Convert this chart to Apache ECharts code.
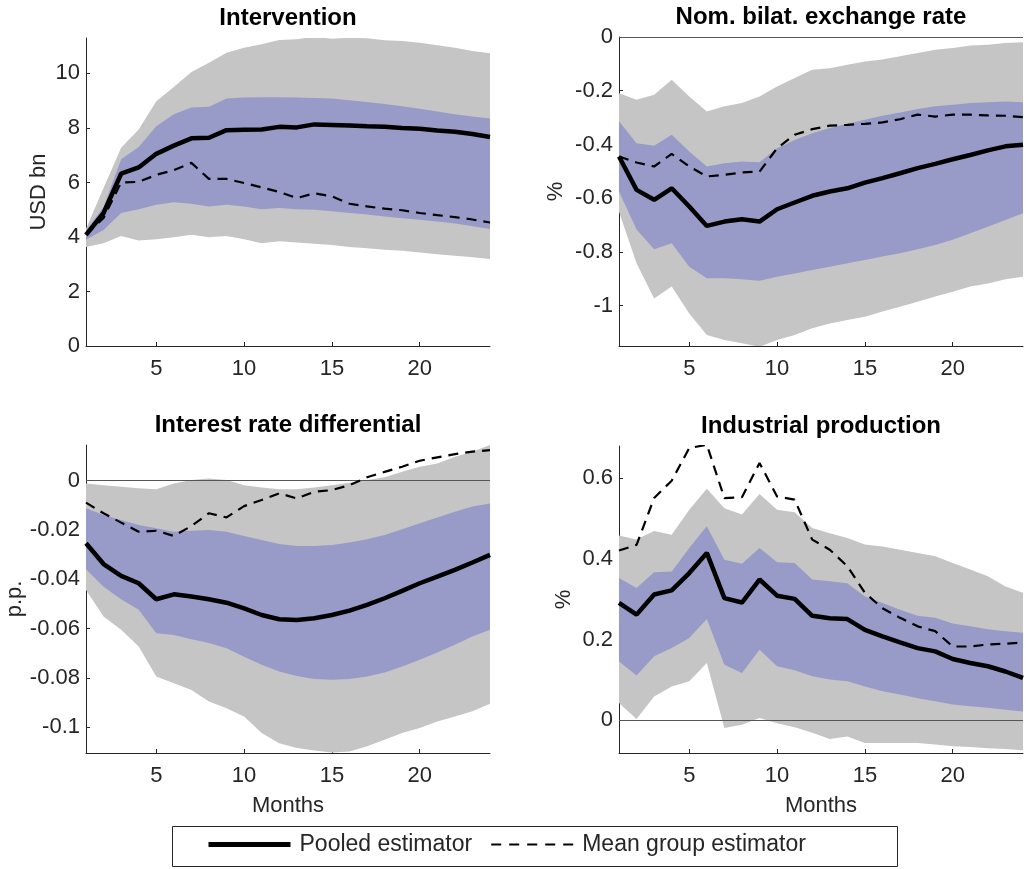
<!DOCTYPE html>
<html>
<head>
<meta charset="utf-8">
<script src="https://cdn.jsdelivr.net/npm/echarts@6/dist/echarts.min.js"></script>
<style>html,body{margin:0;padding:0;background:#fff}#c{width:1026px;height:869px}</style>
</head>
<body>
<div id="c"></div>
<script>
const months = [1,2,3,4,5,6,7,8,9,10,11,12,13,14,15,16,17,18,19,20,21,22,23,24];
const xTicks = [5,10,15,20];

// Panel 1: Intervention (USD bn)
const intPooled = [4.08,4.88,6.32,6.55,7.05,7.35,7.62,7.64,7.92,7.93,7.94,8.04,8.02,8.13,8.11,8.09,8.06,8.04,8.0,7.97,7.91,7.86,7.78,7.67];
const intMean   = [4.08,4.7,6.0,6.02,6.28,6.45,6.72,6.13,6.13,5.98,5.82,5.65,5.43,5.6,5.49,5.22,5.12,5.04,4.98,4.88,4.8,4.73,4.64,4.53];
const intBlueHi = [4.25,5.1,6.85,7.3,8.06,8.5,8.75,8.78,9.08,9.12,9.13,9.13,9.12,9.1,9.08,9.02,8.95,8.88,8.8,8.7,8.6,8.5,8.42,8.35];
const intBlueLo = [3.9,4.26,4.88,5.02,5.18,5.27,5.22,5.12,5.18,5.12,5.02,5.06,5.02,5.0,4.94,4.88,4.82,4.75,4.69,4.63,4.57,4.49,4.39,4.29];
const intGrayHi = [4.3,5.8,7.27,7.94,8.98,9.5,10.05,10.39,10.76,10.94,11.07,11.23,11.25,11.35,11.27,11.31,11.29,11.22,11.19,11.13,11.03,10.94,10.82,10.74];
const intGrayLo = [3.63,3.77,4.04,3.87,3.92,3.99,4.08,3.99,4.04,3.92,3.77,3.84,3.8,3.75,3.71,3.63,3.59,3.53,3.49,3.43,3.37,3.31,3.26,3.19];
const intTicks = [0,2,4,6,8,10];

// Panel 2: Nom. bilat. exchange rate (%)
const exPooled = [-0.445,-0.569,-0.606,-0.563,-0.631,-0.703,-0.687,-0.678,-0.687,-0.641,-0.616,-0.591,-0.575,-0.563,-0.542,-0.525,-0.507,-0.488,-0.472,-0.455,-0.439,-0.422,-0.407,-0.401];
const exMean   = [-0.445,-0.467,-0.482,-0.435,-0.482,-0.519,-0.513,-0.504,-0.501,-0.414,-0.364,-0.343,-0.330,-0.327,-0.323,-0.318,-0.306,-0.289,-0.296,-0.289,-0.289,-0.292,-0.293,-0.298];
const exBlueHi = [-0.314,-0.395,-0.405,-0.364,-0.426,-0.482,-0.470,-0.463,-0.466,-0.414,-0.383,-0.358,-0.339,-0.323,-0.308,-0.293,-0.281,-0.268,-0.258,-0.252,-0.246,-0.243,-0.240,-0.243];
const exBlueLo = [-0.575,-0.716,-0.790,-0.768,-0.855,-0.898,-0.898,-0.902,-0.907,-0.892,-0.880,-0.867,-0.855,-0.842,-0.830,-0.817,-0.805,-0.790,-0.774,-0.755,-0.730,-0.706,-0.681,-0.656];
const exGrayHi = [-0.209,-0.234,-0.215,-0.159,-0.221,-0.277,-0.258,-0.246,-0.221,-0.184,-0.153,-0.122,-0.116,-0.103,-0.091,-0.084,-0.072,-0.060,-0.047,-0.041,-0.032,-0.029,-0.022,-0.020];
const exGrayLo = [-0.650,-0.842,-0.973,-0.929,-1.029,-1.109,-1.128,-1.140,-1.153,-1.128,-1.109,-1.084,-1.066,-1.053,-1.041,-1.022,-1.004,-0.985,-0.966,-0.948,-0.929,-0.917,-0.902,-0.892];
const exTicks = [-1,-0.8,-0.6,-0.4,-0.2,0];

// Panel 3: Interest rate differential (p.p.)
const irPooled = [-0.0254,-0.0338,-0.0386,-0.0416,-0.0481,-0.0461,-0.0470,-0.0481,-0.0495,-0.0518,-0.0545,-0.0562,-0.0565,-0.0558,-0.0545,-0.0527,-0.0504,-0.0477,-0.0447,-0.0416,-0.0389,-0.0362,-0.0332,-0.0301];
const irMean   = [-0.0089,-0.0132,-0.0170,-0.0207,-0.0203,-0.0224,-0.0184,-0.0132,-0.0149,-0.0103,-0.0078,-0.0051,-0.0072,-0.0045,-0.0038,-0.0018,0.0014,0.0036,0.0057,0.0081,0.0095,0.0108,0.0118,0.0124];
const irBlueHi = [-0.0112,-0.0139,-0.0159,-0.0180,-0.0193,-0.0207,-0.0203,-0.0200,-0.0207,-0.0224,-0.0241,-0.0257,-0.0265,-0.0265,-0.0261,-0.0251,-0.0238,-0.0220,-0.0197,-0.0173,-0.0149,-0.0126,-0.0105,-0.0092];
const irBlueLo = [-0.0359,-0.0430,-0.0481,-0.0524,-0.0619,-0.0626,-0.0643,-0.0659,-0.0680,-0.0714,-0.0747,-0.0774,-0.0792,-0.0805,-0.0808,-0.0805,-0.0795,-0.0778,-0.0754,-0.0727,-0.0697,-0.0666,-0.0632,-0.0605];
const irGrayHi = [-0.0011,-0.0018,-0.0024,-0.0031,-0.0035,-0.0011,0.0003,0.0009,0.0003,-0.0018,-0.0027,-0.0035,-0.0035,-0.0027,-0.0018,-0.0008,0.0003,0.0014,0.0036,0.0057,0.0070,0.0097,0.0118,0.0145];
const irGrayLo = [-0.0443,-0.0551,-0.0605,-0.0673,-0.0795,-0.0822,-0.0849,-0.0896,-0.0923,-0.0957,-0.1024,-0.1065,-0.1085,-0.1095,-0.1103,-0.1099,-0.1078,-0.1051,-0.1024,-0.1004,-0.0977,-0.0957,-0.0936,-0.0905];
const irTicks = [-0.1,-0.08,-0.06,-0.04,-0.02,0];

// Panel 4: Industrial production (%)
const ipPooled = [0.291,0.262,0.312,0.322,0.365,0.415,0.303,0.292,0.349,0.309,0.301,0.259,0.253,0.251,0.224,0.208,0.193,0.179,0.171,0.152,0.142,0.134,0.121,0.105];
const ipMean   = [0.421,0.435,0.551,0.594,0.675,0.683,0.551,0.553,0.638,0.555,0.547,0.448,0.423,0.382,0.316,0.278,0.254,0.233,0.221,0.183,0.183,0.188,0.19,0.193];
const ipBlueHi = [0.353,0.328,0.367,0.369,0.427,0.481,0.398,0.388,0.427,0.392,0.390,0.349,0.345,0.340,0.307,0.291,0.274,0.259,0.254,0.240,0.233,0.226,0.221,0.217];
const ipBlueLo = [0.146,0.111,0.159,0.179,0.204,0.251,0.138,0.117,0.175,0.134,0.124,0.109,0.101,0.097,0.084,0.072,0.064,0.055,0.047,0.039,0.035,0.031,0.026,0.022];
const ipGrayHi = [0.458,0.448,0.469,0.460,0.522,0.574,0.526,0.51,0.561,0.522,0.516,0.477,0.464,0.452,0.436,0.431,0.423,0.415,0.407,0.390,0.374,0.357,0.332,0.316];
const ipGrayLo = [0.043,0.003,0.059,0.084,0.097,0.142,-0.019,-0.011,0.006,-0.007,-0.017,-0.031,-0.046,-0.040,-0.056,-0.056,-0.056,-0.056,-0.060,-0.064,-0.066,-0.069,-0.071,-0.074];
const ipTicks = [0,0.2,0.4,0.6];

const FONT = 'Liberation Sans, Arial, Helvetica, sans-serif';
const TXT = '#262626';
const GRAY = '#c5c5c5';
const BLUE = '#989bc7';

const panels = [
  {title:'Intervention', pooled:intPooled, mean:intMean, bHi:intBlueHi, bLo:intBlueLo, gHi:intGrayHi, gLo:intGrayLo,
   ticks:intTicks, min:0, max:11.3, yName:'USD bn', yGap:36, zero:false, xName:'',
   grid:{left:86, top:38, width:404, height:308}},
  {title:'Nom. bilat. exchange rate', pooled:exPooled, mean:exMean, bHi:exBlueHi, bLo:exBlueLo, gHi:exGrayHi, gLo:exGrayLo,
   ticks:exTicks, min:-1.15, max:0, yName:'%', yGap:52, zero:true, xName:'',
   grid:{left:619, top:37, width:404, height:309}},
  {title:'Interest rate differential', pooled:irPooled, mean:irMean, bHi:irBlueHi, bLo:irBlueLo, gHi:irGrayHi, gLo:irGrayLo,
   ticks:irTicks, min:-0.1105, max:0.0145, yName:'p.p.', yGap:58, zero:true, xName:'Months',
   grid:{left:86, top:445, width:404, height:308}},
  {title:'Industrial production', pooled:ipPooled, mean:ipMean, bHi:ipBlueHi, bLo:ipBlueLo, gHi:ipGrayHi, gLo:ipGrayLo,
   ticks:ipTicks, min:-0.081, max:0.68, yName:'%', yGap:44, zero:true, xName:'Months',
   grid:{left:619, top:446, width:404, height:307}}
];

const grids = [], xAxes = [], yAxes = [], series = [], titles = [];
const diff = (hi, lo) => hi.map((h,k) => +(h - lo[k]).toFixed(6));
const isTick = (idx, val) => xTicks.indexOf(+val) >= 0;

panels.forEach((p, i) => {
  grids.push(p.grid);
  titles.push({
    text: p.title, left: p.grid.left + p.grid.width/2, top: p.grid.top - 32, textAlign: 'center', padding: 0,
    textStyle: {fontFamily: FONT, fontSize: 24, fontWeight: 'bold', color: '#000'}
  });
  xAxes.push({
    type:'category', gridIndex:i, data:months, boundaryGap:false,
    name: p.xName, nameLocation:'middle', nameGap: 42,
    nameTextStyle:{fontFamily:FONT, fontSize:22, color:TXT},
    axisLine:{show:true, onZero:false, lineStyle:{color:TXT, width:1}},
    axisTick:{show:true, inside:true, length:4, interval:isTick, lineStyle:{color:TXT}},
    axisLabel:{show:true, interval:isTick, margin:12, fontFamily:FONT, fontSize:22, color:TXT},
    splitLine:{show:false}
  });
  yAxes.push({
    type:'value', gridIndex:i, min:p.min, max:p.max,
    name: p.yName, nameLocation:'middle', nameRotate:90, nameGap:p.yGap,
    nameTextStyle:{fontFamily:FONT, fontSize:22, color:TXT},
    axisLine:{show:true, onZero:false, lineStyle:{color:TXT, width:1}},
    axisTick:{show:true, inside:true, length:4, customValues:p.ticks, lineStyle:{color:TXT}},
    axisLabel:{show:true, customValues:p.ticks, margin:6, fontFamily:FONT, fontSize:22, color:TXT},
    splitLine:{show:false}
  });
  const common = {xAxisIndex:i, yAxisIndex:i, type:'line', symbol:'none', showSymbol:false, silent:true, animation:false};
  // gray band (outer)
  series.push(Object.assign({}, common, {name:'g'+i+'lo', stack:'g'+i, stackStrategy:'all', data:p.gLo.slice(),
    lineStyle:{opacity:0, width:0}, z:1}));
  series.push(Object.assign({}, common, {name:'g'+i+'hi', stack:'g'+i, stackStrategy:'all', data:diff(p.gHi, p.gLo),
    lineStyle:{opacity:0, width:0}, areaStyle:{color:GRAY, opacity:1}, z:1}));
  // blue band (inner)
  series.push(Object.assign({}, common, {name:'b'+i+'lo', stack:'b'+i, stackStrategy:'all', data:p.bLo.slice(),
    lineStyle:{opacity:0, width:0}, z:2}));
  series.push(Object.assign({}, common, {name:'b'+i+'hi', stack:'b'+i, stackStrategy:'all', data:diff(p.bHi, p.bLo),
    lineStyle:{opacity:0, width:0}, areaStyle:{color:BLUE, opacity:1}, z:2}));
  // mean group (dashed)
  series.push(Object.assign({}, common, {name:'Mean group estimator', data:p.mean.slice(), z:4,
    lineStyle:{color:'#000', width:2.2, type:[10,7]}, itemStyle:{color:'#000'}}));
  // pooled (solid)
  const pooled = Object.assign({}, common, {name:'Pooled estimator', data:p.pooled.slice(), z:5,
    lineStyle:{color:'#000', width:4.5}, itemStyle:{color:'#000'}});
  if (p.zero) {
    pooled.markLine = {silent:true, symbol:['none','none'], animation:false, z:3,
      label:{show:false}, lineStyle:{color:'#555', width:1.2, type:'solid'}, data:[{yAxis:0}]};
  }
  series.push(pooled);
});

const chart = echarts.init(document.getElementById('c'), null, {renderer:'canvas'});
chart.setOption({
  animation:false,
  backgroundColor:'#fff',
  title: titles,
  grid: grids,
  xAxis: xAxes,
  yAxis: yAxes,
  series: series,
  legend: {
    data:[
      {name:'Pooled estimator', lineStyle:{width:5, color:'#000', type:'solid'}},
      {name:'Mean group estimator', lineStyle:{width:2.2, color:'#000', type:[10,8]}}
    ],
    left: 206, top: 833, itemWidth: 82, itemHeight: 14, itemGap: 18, padding: 0,
    itemStyle:{opacity:0, borderWidth:0},
    textStyle:{fontFamily:FONT, fontSize:23, color:TXT, padding:[0,0,0,4]},
    selectedMode:false
  },
  graphic: [{
    type:'rect', z:-1, silent:true,
    shape:{x:172.5, y:826.5, width:725, height:40},
    style:{fill:'#fff', stroke:'#262626', lineWidth:1}
  }]
});
</script>
</body>
</html>
